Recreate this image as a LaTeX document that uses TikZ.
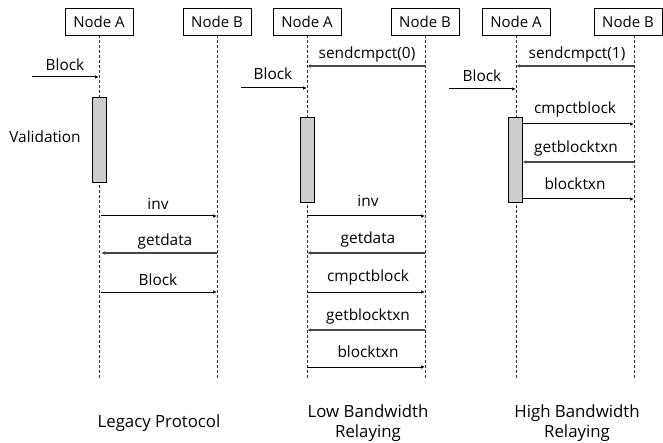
\documentclass[tikz,border=0pt]{standalone}
\usepackage{fontspec}
\setmainfont{Open Sans}
\usetikzlibrary{arrows.meta}
\begin{document}
\begin{tikzpicture}[x=1pt,y=-1pt,
  font=\fontsize{15}{18}\selectfont,
  actor/.style={draw=black,line width=0.9pt,minimum width=68pt,minimum height=27pt,inner sep=0pt,fill=white},
  life/.style={draw=black!80,line width=1pt,dash pattern=on 3pt off 2pt},
  act/.style={draw=black,line width=0.9pt,fill=black!20,minimum width=14pt,inner sep=0pt},
  msgr/.style={draw=black,line width=1pt,-{Latex[length=4pt,width=3.5pt]}},
  msgl/.style={draw=black!72,line width=1.1pt,-{Latex[length=4pt,width=3.5pt]}},
  lbl/.style={anchor=base,inner sep=0pt,font=\fontsize{15.4}{18}\selectfont},
  captxt/.style={anchor=base,inner sep=0pt,font=\fontsize{16.8}{20}\selectfont}]
\useasboundingbox (0,0) rectangle (663,443);
% actors
\node[actor] (A1) at (99,21.5) {Node A};
\node[actor] (B1) at (217,21.5) {Node B};
\node[actor] (A2) at (307,21.5) {Node A};
\node[actor] (B2) at (425,21.5) {Node B};
\node[actor] (A3) at (516,21.5) {Node A};
\node[actor] (B3) at (628,21.5) {Node B};
% lifeline ends
\coordinate (eA1) at (99,378);
\coordinate (eB1) at (217,378);
\coordinate (eA2) at (307,378);
\coordinate (eB2) at (425,378);
\coordinate (eA3) at (516,378);
\coordinate (eB3) at (634,378);
\coordinate (tB3) at (634,35);
\draw[life] (A1.south) -- (eA1);
\draw[life] (B1.south) -- (eB1);
\draw[life] (A2.south) -- (eA2);
\draw[life] (B2.south) -- (eB2);
\draw[life] (A3.south) -- (eA3);
\draw[life] (tB3) -- (eB3);
% activations
\node[act,minimum height=85pt] (V1) at (99,139.5) {};
\node[act,minimum height=85pt] (V2) at (307,159.5) {};
\node[act,minimum height=85pt] (V3) at (515,159.5) {};
% external sources
\coordinate (s1) at (32,77);
\coordinate (s2) at (241,88);
\coordinate (s3) at (449,89);
% panel 1
\draw[msgr] (s1) -- (A1.south |- s1);
\node[lbl] (tb1) at (65,71) {Block};
\node[lbl] (tv) at (45,143) {Validation};
\draw[msgr] (101,216) -- (B1.south |- 0,216);
\node[lbl] (ti1) at (158,210) {inv};
\draw[msgl] (B1.south |- 0,253) -- (101,253);
\node[lbl] (tg1) at (165,246) {getdata};
\draw[msgr] (101,292) -- (B1.south |- 0,292);
\node[lbl] (tk1) at (158,285) {Block};
\node[captxt] (tt1) at (159,427) {Legacy Protocol};
% panel 2
\draw[msgl] (B2.south |- 0,66) -- (A2.south |- 0,66);
\node[lbl] (ts2) at (367,59) {sendcmpct(0)};
\draw[msgr] (s2) -- (A2.south |- s2);
\node[lbl] (tb2) at (273,80) {Block};
\draw[msgr] (A2.south |- 0,216) -- (B2.south |- 0,216);
\node[lbl] (ti2) at (368,207) {inv};
\draw[msgl] (B2.south |- 0,253) -- (A2.south |- 0,253);
\node[lbl] (tg2) at (368,244) {getdata};
\draw[msgr] (A2.south |- 0,292) -- (B2.south |- 0,292);
\node[lbl] (tc2) at (368,282) {cmpctblock};
\draw[msgl] (B2.south |- 0,330) -- (A2.south |- 0,330);
\node[lbl] (tgb2) at (368,320) {getblocktxn};
\draw[msgr] (A2.south |- 0,367) -- (B2.south |- 0,367);
\node[lbl] (tbt2) at (368,357) {blocktxn};
\node[captxt] (tt2a) at (368,417) {Low Bandwidth};
\node[captxt] (tt2b) at (368,437) {Relaying};
% panel 3
\draw[msgl] (tB3 |- 0,66) -- (A3.south |- 0,66);
\node[lbl] (ts3) at (577,59) {sendcmpct(1)};
\draw[msgr] (s3) -- (A3.south |- s3);
\node[lbl] (tb3) at (482,82) {Block};
\draw[msgr] (V3.east |- 0,124) -- (tB3 |- 0,124);
\node[lbl] (tc3) at (575,114) {cmpctblock};
\draw[msgl] (tB3 |- 0,162) -- (V3.east |- 0,162);
\node[lbl] (tgb3) at (576,153) {getblocktxn};
\draw[msgr] (V3.east |- 0,199) -- (tB3 |- 0,199);
\node[lbl] (tbt3) at (575,190) {blocktxn};
\node[captxt] (tt3a) at (577,417) {High Bandwidth};
\node[captxt] (tt3b) at (577,437) {Relaying};
\end{tikzpicture}
\end{document}
